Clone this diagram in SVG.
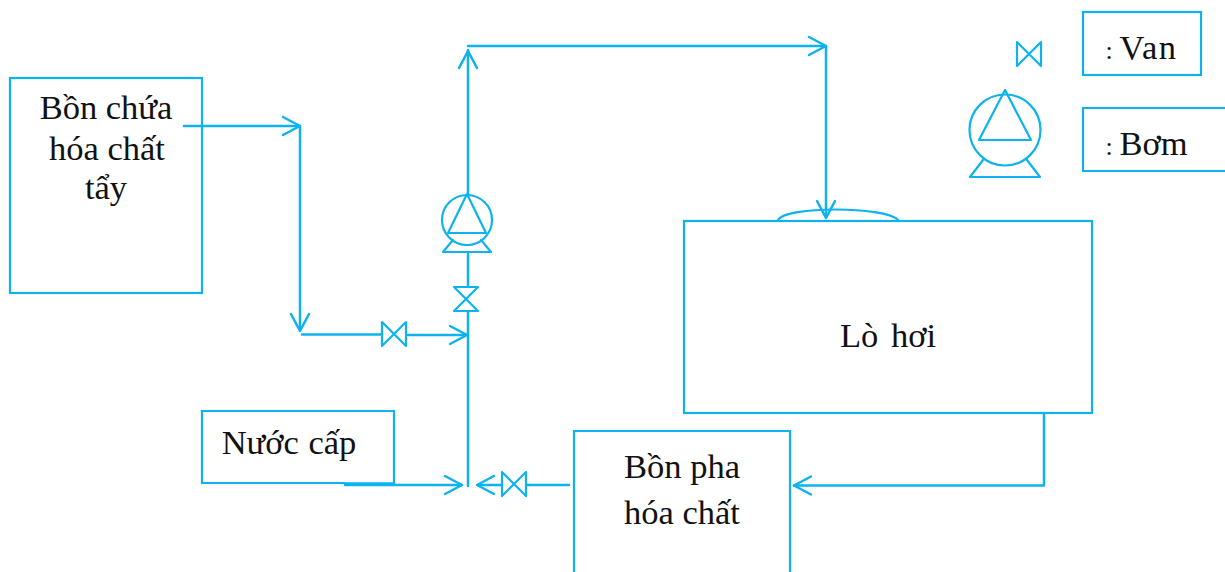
<svg xmlns="http://www.w3.org/2000/svg" width="1225" height="572" viewBox="0 0 1225 572">
<style>
.b{fill:none;stroke:#0db2ee;stroke-width:2.2}
.c{fill:none;stroke:#0db2ee;stroke-width:2.5;stroke-linecap:round;stroke-linejoin:round}
.t{stroke-width:2.2}
text{font-family:"Liberation Serif","Times New Roman",serif;font-size:34.5px;fill:#111;text-anchor:middle}
.s{font-size:26px}
</style>
<defs>
<g id="valve"><path class="c t" d="M-12,-12L12,12L12,-12L-12,12Z"/></g>
<g id="pump"><circle class="b" cx="0" cy="0" r="25"/><path class="c t" d="M0,-26L-19,13L19,13Z"/><path class="c t" d="M-14,20L-24,32L24,32L14,20"/></g>
<path id="ah" class="c" d="M-17,-9L0,0L-17,9"/>
</defs>
<g id="connectors">
<path class="c" d="M184,126L300,126L300,330"/>
<use href="#ah" transform="translate(300,126)"/>
<use href="#ah" transform="translate(300,331) rotate(90)"/>
<path class="c" d="M302,334.500L382,334.500"/>
<path class="c" d="M407,335L467,335"/>
<use href="#ah" transform="translate(467,335)"/>
<path class="c" d="M468,486L468,312"/>
<path class="c" d="M468,286L468,254"/>
<path class="c" d="M468,195L468,50"/>
<use href="#ah" transform="translate(468,51) rotate(-90)"/>
<path class="c" d="M468,46L826,46L826,217"/>
<use href="#ah" transform="translate(826,46)"/>
<use href="#ah" transform="translate(826,218) rotate(90)"/>
<path class="c" d="M345,483.500L394,483.500"/>
<path class="c" d="M345,485L462,485"/>
<use href="#ah" transform="translate(462,485)"/>
<path class="c" d="M478,485L502,485"/>
<use href="#ah" transform="translate(477,485) rotate(180)"/>
<path class="c" d="M527,485L569,485"/>
<path class="c" d="M1044,413L1044,485.500L794,485.500"/>
<use href="#ah" transform="translate(794,485.500) rotate(180)"/>
<path class="c t" d="M778,220C785,206 885,206 898,220"/>
</g>
<g id="node-bon-chua"><rect class="b" x="10" y="78" width="192" height="215"/>
<text x="106" y="119">Bồn chứa</text><text x="107" y="160">hóa chất</text><text x="106" y="199">tẩy</text></g>
<g id="node-nuoc-cap"><path class="b" d="M345,483L202,483L202,411L394,411L394,483"/><text x="289" y="454" word-spacing="1">Nước cấp</text></g>
<g id="node-lo-hoi"><rect class="b" x="684" y="221" width="408" height="192"/><text x="888" y="347" word-spacing="4">Lò hơi</text></g>
<g id="node-bon-pha"><path class="b" d="M574,572L574,431L790,431L790,572"/><text x="682" y="478">Bồn pha</text><text x="682" y="524">hóa chất</text></g>
<g id="node-valve-1"><use href="#valve" transform="translate(394,334)"/></g>
<g id="node-valve-2"><use href="#valve" transform="translate(466,299) rotate(90)"/></g>
<g id="node-valve-3"><use href="#valve" transform="translate(514,484)"/></g>
<g id="node-pump"><use href="#pump" transform="translate(467,220)"/></g>
<g id="legend-valve-icon"><use href="#valve" transform="translate(1029,54)"/></g>
<g id="legend-pump-icon"><g transform="translate(1005,130)"><circle class="b" cx="0" cy="0" r="35.5"/><path class="c t" d="M0,-40L-26,10L26,10Z"/><path class="c t" d="M-22,30L-35,47L35,47L22,30"/></g></g>
<g id="legend-van"><rect class="b" x="1083" y="12" width="118" height="63"/><text class="s" x="1109" y="59">:</text><text x="1148.500" y="59" letter-spacing="1.500">Van</text></g>
<g id="legend-bom"><path class="b" d="M1225,108L1083,108L1083,171L1225,171"/><text class="s" x="1109" y="155">:</text><text x="1153.500" y="155">Bơm</text></g>
</svg>
